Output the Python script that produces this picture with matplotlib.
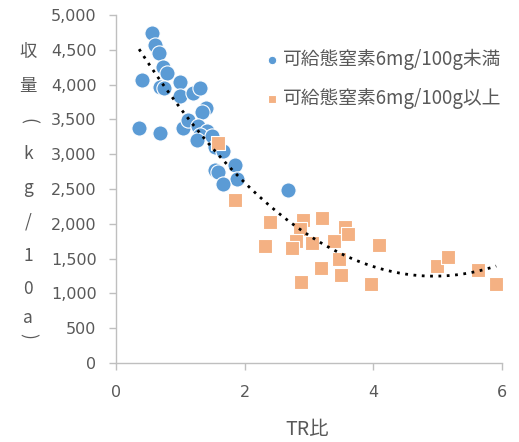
import numpy as np
import matplotlib
matplotlib.use("Agg")
import matplotlib.pyplot as plt

plt.rcParams['font.family'] = ['Noto Sans CJK JP', 'DejaVu Sans']

# Series 1: 可給態窒素6mg/100g未満
blue_x = [0.563, 0.602, 0.671, 0.729, 0.788, 0.407, 0.680, 0.749, 0.993, 0.993, 1.197, 1.304,
          1.402, 1.334, 0.359, 0.680, 1.041, 1.119, 1.275, 1.412, 1.304, 1.256, 1.490, 1.538,
          1.665, 1.850, 1.538, 1.587, 1.880, 1.665, 2.679]
blue_y = [4742, 4570, 4455, 4255, 4170, 4070, 3970, 3950, 4040, 3830, 3880, 3950,
          3660, 3610, 3380, 3310, 3380, 3490, 3400, 3330, 3280, 3210, 3260, 3110,
          3040, 2850, 2780, 2750, 2640, 2565, 2490]

# Series 2: 可給態窒素6mg/100g以上
orange_x = [1.587, 1.850, 2.396, 2.318, 2.903, 2.864, 2.796, 2.738, 3.050, 3.206, 3.391, 3.557,
            3.605, 3.469, 3.186, 3.498, 2.874, 3.966, 4.093, 4.990, 5.166, 5.633, 5.910]
orange_y = [3160, 2340, 2020, 1680, 2050, 1920, 1750, 1650, 1730, 2080, 1760, 1960,
            1860, 1490, 1360, 1260, 1160, 1130, 1700, 1390, 1530, 1330, 1130]

labels = ['可給態窒素6mg/100g未満', '可給態窒素6mg/100g以上']
x_ticks = [0, 2, 4, 6]
y_ticks = list(range(0, 5001, 500))
y_label_chars = ['収', '量', '(', 'k', 'g', '/', '1', '0', 'a', ')']

blue = '#5B9BD5'
orange = '#F4B183'
axis_gray = '#BFBFBF'
text_gray = '#595959'

W, H = 519, 442
fig = plt.figure(figsize=(W / 100, H / 100), dpi=100)
ax = fig.add_axes([116 / W, 1 - 363 / H, (502 - 116) / W, (363 - 15) / H])

ax.scatter(blue_x, blue_y, s=120, marker='o', color=blue, edgecolors='white',
           linewidths=0.8, label=labels[0], zorder=2)
ax.scatter(orange_x, orange_y, s=115, marker='s', color=orange, edgecolors='white',
           linewidths=0.8, label=labels[1], zorder=3)

# polynomial (order 2) trend line over all points
all_x = np.array(blue_x + orange_x)
all_y = np.array(blue_y + orange_y)
coef = np.polyfit(all_x, all_y, 2)
tx = np.linspace(all_x.min(), all_x.max(), 200)
ax.plot(tx, np.polyval(coef, tx), color='black', linestyle=(0, (1, 2)),
        linewidth=2.0, zorder=4)

ax.set_xlim(0, 6)
ax.set_ylim(0, 5000)
ax.set_xticks(x_ticks)
ax.set_yticks(y_ticks)
ax.set_yticklabels([f'{v:,}' for v in y_ticks])

for s in ['top', 'right']:
    ax.spines[s].set_visible(False)
for s in ['left', 'bottom']:
    ax.spines[s].set_color(axis_gray)
    ax.spines[s].set_linewidth(1.0)
ax.tick_params(axis='both', colors=axis_gray, length=5, width=1.0,
               labelcolor=text_gray, labelsize=11.5)
ax.tick_params(axis='y', pad=9)
ax.tick_params(axis='x', pad=11)
for lab in ax.get_xticklabels() + ax.get_yticklabels():
    lab.set_fontfamily('DejaVu Sans')

fig.text(307 / W, 1 - 429 / H, 'TR比', fontsize=14, color=text_gray,
         ha='center', va='center')

# vertical y-axis label, one character per row
ys = [52, 86, 121, 154, 188, 222, 256, 289, 318, 336]
for ch, yy in zip(y_label_chars, ys):
    rot = -90 if ch in '()' else 0
    fig.text(28 / W, 1 - yy / H, ch, fontsize=12.5, color=text_gray,
             ha='center', va='center', rotation=rot)

leg = fig.legend(loc='upper left', bbox_to_anchor=(264 / W, 1 - 49 / H),
                 frameon=False, fontsize=13.5, markerscale=0.56,
                 handlelength=0.8, handletextpad=0.2, labelspacing=0.95,
                 borderpad=0, borderaxespad=0)
for t in leg.get_texts():
    t.set_color(text_gray)

fig.savefig('out.png', dpi=100)
